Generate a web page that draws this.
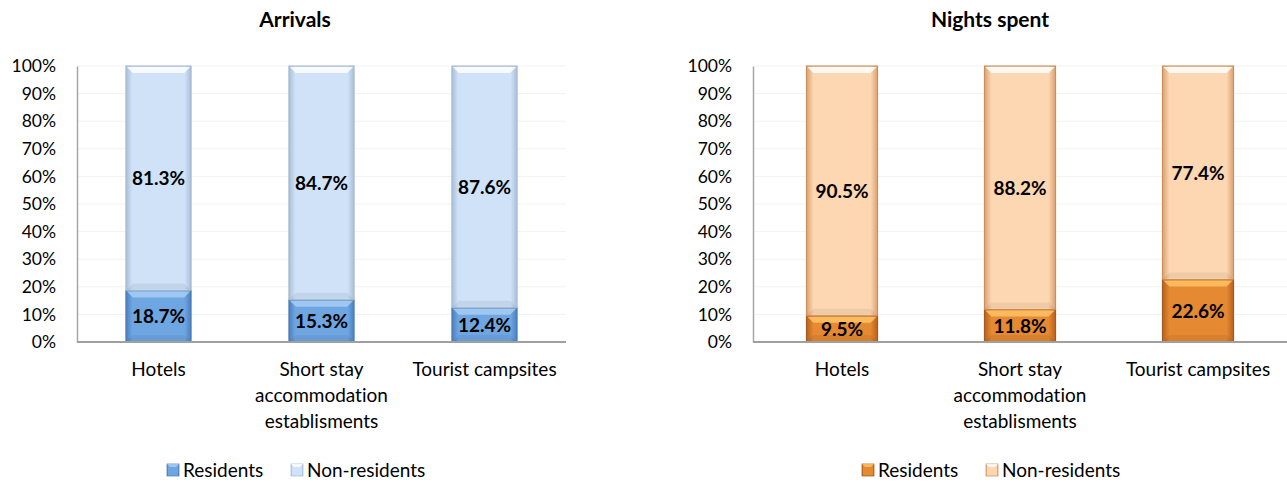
<!DOCTYPE html>
<html>
<head>
<meta charset="utf-8">
<script src="https://cdn.jsdelivr.net/npm/d3@7"></script>
<style>
  body { margin: 0; background: #fff; }
  svg { font-family: Lato, "Open Sans", sans-serif; font-variant-ligatures: none; }
</style>
</head>
<body>
<div id="chart"></div>
<script>
// data
const categoryLines = [
  ["Hotels"],
  ["Short stay", "accommodation", "establisments"],
  ["Tourist campsites"],
];
const seriesNames = ["Residents", "Non-residents"];
const arrivalsResidents = [18.7, 15.3, 12.4];
const arrivalsNonResidents = [81.3, 84.7, 87.6];
const nightsResidents = [9.5, 11.8, 22.6];
const nightsNonResidents = [90.5, 88.2, 77.4];
const yTickValues = [0, 10, 20, 30, 40, 50, 60, 70, 80, 90, 100];

const svg = d3
  .select("#chart")
  .append("svg")
  .attr("width", 1287)
  .attr("height", 483);

const defs = svg.append("defs");

// horizontal shading so the bars look bevelled like the Excel original
function addGradient(id, edge, mid) {
  const g = defs
    .append("linearGradient")
    .attr("id", id)
    .attr("x1", "0%")
    .attr("x2", "100%");
  g.append("stop").attr("offset", "0%").attr("stop-color", edge);
  g.append("stop").attr("offset", "10%").attr("stop-color", mid);
  g.append("stop").attr("offset", "90%").attr("stop-color", mid);
  g.append("stop").attr("offset", "100%").attr("stop-color", edge);
}
addGradient("blueDark", "#4b7fbe", "#6ea6e2");
addGradient("blueLight", "#a9bfd8", "#cfe2f8");
addGradient("orangeDark", "#b8601c", "#e58a32");
addGradient("orangeLight", "#d9a070", "#fdd7b2");

function drawChart(config) {
  const g = svg.append("g");

  const x = d3
    .scaleBand()
    .domain(d3.range(config.residents.length))
    .range([config.left, config.right])
    .paddingInner(0.6)
    .paddingOuter(0.3);

  const y = d3
    .scaleLinear()
    .domain([0, 100])
    .range([config.bottom, config.top]);

  // faint gridlines
  g.selectAll(".grid")
    .data(yTickValues.slice(1))
    .join("line")
    .attr("x1", config.left)
    .attr("x2", config.right)
    .attr("y1", (d) => y(d))
    .attr("y2", (d) => y(d))
    .attr("stroke", "#f2f2f2")
    .attr("stroke-width", 1);

  // y axis
  const yAxis = d3
    .axisLeft(y)
    .tickValues(yTickValues)
    .tickSize(0)
    .tickPadding(21)
    .tickFormat((d) => d + "%");
  const yg = g
    .append("g")
    .attr("transform", `translate(${config.left},0)`)
    .call(yAxis);
  yg.select(".domain").attr("stroke", "#a6a6a6").attr("stroke-width", 1.5);
  yg.selectAll("text")
    .attr("font-size", "17.5px")
    .attr("fill", "#000")
    .attr("font-family", "Lato, sans-serif");

  // stacked segments
  const segments = [];
  config.residents.forEach((v, i) => {
    segments.push({ i, y0: 0, y1: v, dark: true, value: v });
    segments.push({
      i,
      y0: v,
      y1: v + config.nonResidents[i],
      dark: false,
      value: config.nonResidents[i],
    });
  });

  const b = 7; // bevel size
  segments.forEach((s) => {
    const x0 = x(s.i);
    const x1 = x0 + x.bandwidth();
    const top = y(s.y1);
    const bot = y(s.y0);
    const seg = g.append("g");
    seg
      .append("rect")
      .attr("x", x0)
      .attr("y", top)
      .attr("width", x.bandwidth())
      .attr("height", bot - top)
      .attr("fill", `url(#${s.dark ? config.darkGrad : config.lightGrad})`)
      .attr("stroke", s.dark ? config.darkStroke : config.lightStroke)
      .attr("stroke-width", 1);
    // top bevel highlight
    seg
      .append("polygon")
      .attr(
        "points",
        [
          [x0 + 1, top + 1],
          [x1 - 1, top + 1],
          [x1 - b, top + b],
          [x0 + b, top + b],
        ].join(" ")
      )
      .attr("fill", s.dark ? config.darkHighlight : "#ffffff")
      .attr("opacity", 0.85);
    // bottom bevel shade
    seg
      .append("polygon")
      .attr(
        "points",
        [
          [x0 + 1, bot - 1],
          [x1 - 1, bot - 1],
          [x1 - b, bot - b],
          [x0 + b, bot - b],
        ].join(" ")
      )
      .attr("fill", "#000")
      .attr("opacity", 0.06);

    seg
      .append("text")
      .attr("x", (x0 + x1) / 2)
      .attr("y", (top + bot) / 2)
      .attr("dy", "0.36em")
      .attr("text-anchor", "middle")
      .attr("font-size", "19px")
      .attr("font-weight", "bold")
      .attr("fill", "#000")
      .text(s.value.toFixed(1) + "%");
  });

  // x baseline
  g.append("line")
    .attr("x1", config.left)
    .attr("x2", config.right)
    .attr("y1", y(0))
    .attr("y2", y(0))
    .attr("stroke", "#a0a0a0")
    .attr("stroke-width", 2);

  // category labels
  categoryLines.forEach((lines, i) => {
    const t = g
      .append("text")
      .attr("x", x(i) + x.bandwidth() / 2)
      .attr("y", y(0) + 34)
      .attr("text-anchor", "middle")
      .attr("font-size", "19px")
      .attr("fill", "#000");
    lines.forEach((line, k) => {
      t.append("tspan")
        .attr("x", x(i) + x.bandwidth() / 2)
        .attr("dy", k === 0 ? 0 : 26)
        .text(line);
    });
  });

  // title
  g.append("text")
    .attr("x", config.titleX)
    .attr("y", 27)
    .attr("text-anchor", "middle")
    .attr("font-size", "21px")
    .attr("font-weight", "bold")
    .text(config.title);

  // legend
  const legendItems = [
    { name: seriesNames[0], grad: config.darkGrad, hl: config.darkHighlight, stroke: config.darkStroke },
    { name: seriesNames[1], grad: config.lightGrad, hl: "#ffffff", stroke: config.lightStroke },
  ];
  legendItems.forEach((item, k) => {
    const lx = config.legendX[k];
    const lg = g.append("g").attr("transform", `translate(${lx},464)`);
    lg.append("rect")
      .attr("width", 12)
      .attr("height", 12)
      .attr("fill", `url(#${item.grad})`)
      .attr("stroke", item.stroke)
      .attr("stroke-width", 0.7);
    lg.append("polygon")
      .attr("points", "0,0 12,0 9,3 3,3")
      .attr("fill", item.hl)
      .attr("opacity", 0.8);
    lg.append("text")
      .attr("x", 16)
      .attr("y", 6)
      .attr("dy", "0.36em")
      .attr("font-size", "19px")
      .text(item.name);
  });
}

drawChart({
  title: "Arrivals",
  titleX: 295,
  residents: arrivalsResidents,
  nonResidents: arrivalsNonResidents,
  left: 77,
  right: 566,
  top: 66,
  bottom: 342,
  darkGrad: "blueDark",
  lightGrad: "blueLight",
  darkStroke: "#4a78ad",
  lightStroke: "#a3b6cc",
  darkHighlight: "#a8cdf3",
  legendX: [167, 291],
});

drawChart({
  title: "Nights spent",
  titleX: 990,
  residents: nightsResidents,
  nonResidents: nightsNonResidents,
  left: 753,
  right: 1287,
  top: 66,
  bottom: 342,
  darkGrad: "orangeDark",
  lightGrad: "orangeLight",
  darkStroke: "#9c5418",
  lightStroke: "#c88a52",
  darkHighlight: "#ffc266",
  legendX: [862, 986],
});
</script>
</body>
</html>
